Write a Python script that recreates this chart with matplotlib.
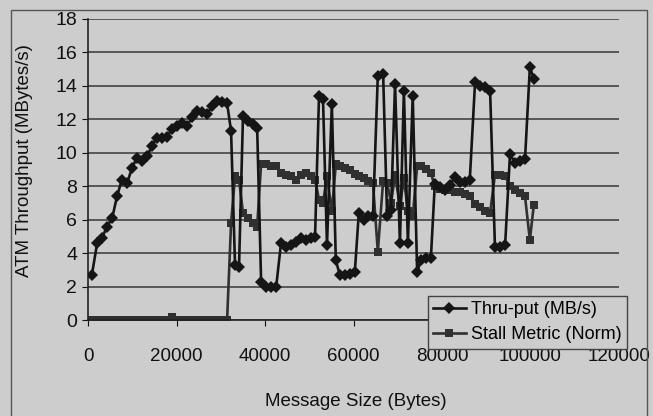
import matplotlib
matplotlib.use("Agg")
import matplotlib.pyplot as plt
from matplotlib.patches import Rectangle

plt.rcParams['font.family'] = ['Liberation Sans', 'DejaVu Sans']

# message sizes (bytes)
msg_size = [800, 2000, 3100, 4200, 5400, 6500, 7600, 8800, 9900, 11000,
            12100, 13300, 14400, 15500, 16700, 17800, 18900, 20100, 21200, 22300,
            23500, 24600, 25700, 26900, 28000, 29100, 30200, 31400, 32300, 33200,
            34100, 35000, 36100, 37300, 38200, 39100, 40200, 41300, 42500, 43600,
            44700, 45900, 47000, 48100, 49200, 50400, 51300, 52200, 53100, 54000,
            55100, 56000, 56900, 58100, 59200, 60300, 61200, 62400, 63300, 64400,
            65500, 66700, 67600, 68500, 69400, 70500, 71400, 72300, 73400, 74400,
            75300, 76400, 77500, 78400, 79600, 80700, 81800, 82900, 84100, 85200,
            86300, 87500, 88600, 89700, 90900, 92000, 93100, 94300, 95400, 96500,
            97700, 98800, 99900, 100800]

thruput = [2.7, 4.6, 4.9, 5.6, 6.1, 7.4, 8.4, 8.2, 9.1, 9.7,
           9.5, 9.8, 10.4, 10.9, 10.85, 10.95, 11.4, 11.6, 11.8, 11.6,
           12.1, 12.5, 12.4, 12.3, 12.8, 13.1, 13.0, 12.95, 11.3, 3.3,
           3.2, 12.2, 11.9, 11.7, 11.5, 2.3, 2.0, 2.0, 2.0, 4.6,
           4.4, 4.5, 4.7, 4.9, 4.8, 4.9, 5.0, 13.4, 13.2, 4.5,
           12.9, 3.6, 2.7, 2.7, 2.8, 2.9, 6.4, 6.0, 6.2, 6.2,
           14.6, 14.7, 6.2, 6.6, 14.1, 4.6, 13.7, 4.6, 13.4, 2.9,
           3.6, 3.7, 3.7, 8.15, 7.95, 7.75, 8.05, 8.55, 8.25, 8.25,
           8.35, 14.2, 14.0, 13.9, 13.7, 4.4, 4.4, 4.5, 9.9, 9.4,
           9.5, 9.6, 15.1, 14.4]

stall = [0, 0, 0, 0, 0, 0, 0, 0, 0, 0,
         0, 0, 0, 0, 0, 0, 0.2, 0, 0, 0,
         0, 0, 0, 0, 0, 0, 0, 0, 5.8, 8.6,
         8.4, 6.4, 6.1, 5.8, 5.6, 9.35, 9.3, 9.2, 9.2, 8.8,
         8.7, 8.6, 8.4, 8.7, 8.8, 8.6, 8.4, 7.2, 7.0, 8.6,
         6.5, 9.3, 9.2, 9.1, 8.95, 8.75, 8.6, 8.5, 8.3, 8.2,
         4.1, 8.3, 8.2, 7.0, 8.7, 6.8, 8.5, 6.5, 6.2, 9.2,
         9.2, 9.0, 8.8, 8.0, 7.85, 7.8, 7.75, 7.65, 7.65, 7.55,
         7.45, 6.95, 6.75, 6.55, 6.4, 8.7, 8.65, 8.6, 8.0, 7.8,
         7.6, 7.4, 4.8, 6.9]

bg = '#cdcdcd'
ink = '#151515'

fig = plt.figure(figsize=(6.53, 4.16), dpi=100, facecolor=bg)
ax = fig.add_axes([0.1352, 0.2296, 0.8123, 0.7259])
ax.set_facecolor(bg)

ax.plot(msg_size, thruput, color=ink, lw=1.9, marker='D', markersize=6.5,
        markeredgewidth=0, label='Thru-put (MB/s)', zorder=3)
ax.plot(msg_size, stall, color='#303030', lw=1.9, marker='s', markersize=6,
        markeredgewidth=0, label='Stall Metric (Norm)', zorder=2)

ax.set_xlim(0, 120000)
ax.set_ylim(0, 18)
ax.set_xticks(range(0, 120001, 20000))
ax.set_yticks(range(0, 19, 2))
ax.yaxis.grid(True, color='#444444', lw=1.2)
ax.set_axisbelow(True)
for s in ['top', 'right']:
    ax.spines[s].set_visible(False)
for s in ['left', 'bottom']:
    ax.spines[s].set_color('#222222')
    ax.spines[s].set_linewidth(1.2)

ax.tick_params(axis='x', direction='out', length=4, pad=16, labelsize=13.5, colors='#111111')
ax.tick_params(axis='y', direction='out', length=4, pad=4, labelsize=14, colors='#111111')

fig.text(0.545, 0.035, 'Message Size (Bytes)', ha='center', va='center',
         fontsize=13.5, color='#111111')
fig.text(0.038, 0.615, 'ATM Throughput (MBytes/s)', ha='center', va='center',
         rotation=90, fontsize=13.5, color='#111111')

leg = ax.legend(loc='lower left', bbox_to_anchor=(0.640, -0.094, 0.376, 0.205),
                mode='expand', fontsize=13, frameon=True, fancybox=False,
                handlelength=1.8, handletextpad=0.3, labelspacing=0.45,
                borderpad=0.3, borderaxespad=0)
leg.get_frame().set_facecolor(bg)
leg.get_frame().set_edgecolor('#444444')
leg.get_frame().set_alpha(1)
leg.set_zorder(5)

# outer frame of the chart
fig.patches.append(Rectangle((11 / 653, -0.02), 636 / 653, 1 - 10 / 416 + 0.02,
                             transform=fig.transFigure, fill=False,
                             edgecolor='#555555', lw=1.0))

plt.savefig('out.png', dpi=100, facecolor=bg)
